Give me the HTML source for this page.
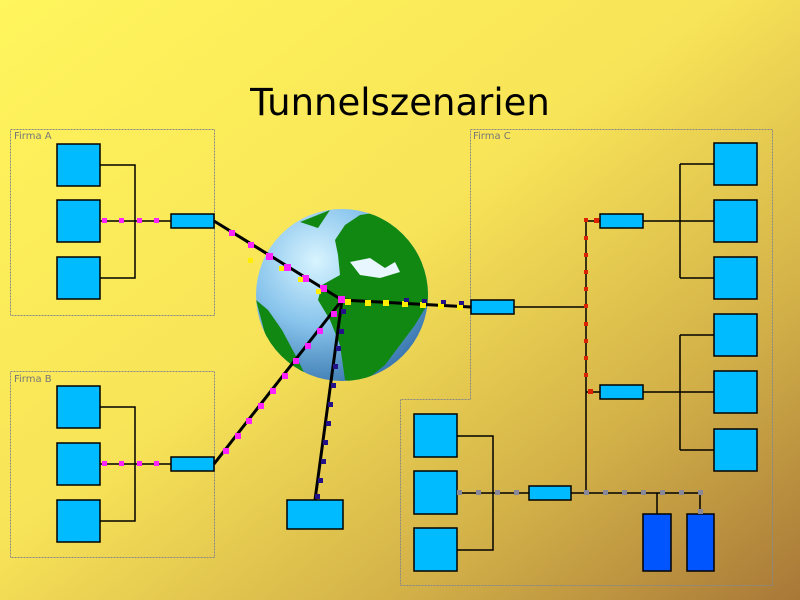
<!DOCTYPE html>
<html><head><style>
body{margin:0;width:800px;height:600px;overflow:hidden}
svg{display:block}
</style></head><body>
<svg width="800" height="600" viewBox="0 0 800 600" xmlns="http://www.w3.org/2000/svg">
<defs>
<linearGradient id="bg" x1="0" y1="0" x2="1" y2="1">
<stop offset="0" stop-color="#fff55c"/><stop offset="0.45" stop-color="#f8e458"/><stop offset="0.75" stop-color="#d2b048"/><stop offset="1" stop-color="#a87838"/>
</linearGradient>
<radialGradient id="gl" cx="0.35" cy="0.3" r="0.75">
<stop offset="0" stop-color="#d8f4ff"/><stop offset="0.5" stop-color="#88c4ec"/><stop offset="1" stop-color="#3a78b0"/>
</radialGradient>
<clipPath id="cp"><circle cx="342" cy="295" r="86"/></clipPath>
</defs>
<rect width="800" height="600" fill="url(#bg)"/>
<text x="400" y="115" text-anchor="middle" font-family="DejaVu Sans, sans-serif" font-size="37" fill="#000">Tunnelszenarien</text>
<g fill="none" stroke="#888" stroke-dasharray="2,1">
<rect x="10.5" y="129.5" width="204" height="186"/>
<rect x="10.5" y="371.5" width="204" height="186"/>
<polygon points="470.5,129.5 772.5,129.5 772.5,585.5 400.5,585.5 400.5,399.5 470.5,399.5"/>
</g>
<g font-family="DejaVu Sans, sans-serif" font-size="10" fill="#777">
<text x="14" y="139">Firma A</text><text x="14" y="382">Firma B</text><text x="473" y="139">Firma C</text>
</g>
<g stroke="#000" stroke-width="1.5" fill="none">
<path d="M100 165H135V278H100M100 221H171"/>
<path d="M100 407H135V521H100M100 464H171"/>
<path d="M514 307H586M586 220V493M586 221H600M586 392H600M643 221H714M680 164V278M680 164H714M680 278H714M643 392H714M680 335V450M680 335H714M680 450H714"/>
<path d="M457 436H493V550H457M457 493H529M571 493H700M657 493V514M700 493V514"/>
</g>
<g fill="#00bbff" stroke="#000" stroke-width="1.5">
<rect x="57" y="144" width="43" height="42"/><rect x="57" y="200" width="43" height="42"/><rect x="57" y="257" width="43" height="42"/>
<rect x="57" y="386" width="43" height="42"/><rect x="57" y="443" width="43" height="42"/><rect x="57" y="500" width="43" height="42"/>
<rect x="171" y="214" width="43" height="14"/><rect x="171" y="457" width="43" height="14"/>
<rect x="287" y="500" width="56" height="29"/>
<rect x="471" y="300" width="43" height="14"/><rect x="600" y="214" width="43" height="14"/><rect x="600" y="385" width="43" height="14"/><rect x="529" y="486" width="42" height="14"/>
<rect x="714" y="143" width="43" height="42"/><rect x="714" y="200" width="43" height="42"/><rect x="714" y="257" width="43" height="42"/>
<rect x="714" y="314" width="43" height="42"/><rect x="714" y="371" width="43" height="42"/><rect x="714" y="429" width="43" height="42"/>
<rect x="414" y="414" width="43" height="43"/><rect x="414" y="471" width="43" height="43"/><rect x="414" y="528" width="43" height="43"/>
</g>
<g fill="#0055ff" stroke="#000" stroke-width="1.5">
<rect x="643" y="514" width="28" height="57"/><rect x="687" y="514" width="27" height="57"/>
</g>
<circle cx="342" cy="295" r="86" fill="url(#gl)"/>
<g clip-path="url(#cp)" fill="#118811">
<path d="M335 240 L345 225 L360 215 L380 212 L400 215 L420 225 L432 260 L430 300 L415 325 L400 345 L385 365 L360 385 L345 380 L340 345 L330 320 L318 300 L322 285 L340 275 L338 255Z"/>
<path d="M256 300 L268 310 L282 330 L298 360 L310 385 L290 372 L268 345Z"/>
<path d="M300 222 L330 210 L318 228Z"/>
</g>
<g fill="#e8f6ff"><path d="M350 262 L370 258 L385 268 L395 262 L400 272 L380 278 L360 275Z"/></g>
<g stroke="#000" stroke-width="3">
<line x1="214" y1="221" x2="342" y2="300"/><line x1="214" y1="464" x2="342" y2="300"/>
<line x1="315" y1="500" x2="342" y2="300"/><line x1="471" y1="307" x2="342" y2="300"/>
</g>
<g fill="#ff22ff">
<rect x="102" y="218" width="5" height="5"/><rect x="119" y="218" width="5" height="5"/><rect x="137" y="218" width="5" height="5"/><rect x="154" y="218" width="5" height="5"/>
<rect x="102" y="461" width="5" height="5"/><rect x="119" y="461" width="5" height="5"/><rect x="137" y="461" width="5" height="5"/><rect x="154" y="461" width="5" height="5"/>
<rect x="229" y="230" width="6" height="6"/><rect x="248" y="242" width="6" height="6"/><rect x="266" y="253" width="7" height="7"/><rect x="284" y="264" width="7" height="7"/><rect x="302" y="275" width="7" height="7"/><rect x="320" y="285" width="7" height="7"/><rect x="338" y="296" width="7" height="7"/>
<rect x="331" y="311" width="6" height="6"/><rect x="317" y="328" width="6" height="6"/><rect x="305" y="343" width="6" height="6"/><rect x="293" y="358" width="6" height="6"/><rect x="282" y="373" width="6" height="6"/><rect x="270" y="388" width="6" height="6"/><rect x="258" y="403" width="6" height="6"/><rect x="246" y="418" width="6" height="6"/><rect x="235" y="433" width="6" height="6"/><rect x="223" y="448" width="6" height="6"/>
</g>
<g fill="#ffee00">
<rect x="248" y="258" width="5" height="5"/><rect x="279" y="266" width="5" height="5"/><rect x="298" y="277" width="5" height="5"/><rect x="316" y="289" width="5" height="5"/>
<rect x="345" y="299" width="6" height="6"/><rect x="365" y="300" width="6" height="6"/><rect x="383" y="300" width="6" height="6"/><rect x="402" y="301" width="6" height="6"/><rect x="420" y="302" width="6" height="6"/><rect x="438" y="303" width="6" height="6"/><rect x="457" y="304" width="6" height="6"/>
</g>
<g fill="#221188">
<rect x="341" y="309" width="5" height="5"/><rect x="339" y="329" width="5" height="5"/><rect x="336" y="346" width="5" height="5"/><rect x="333" y="364" width="5" height="5"/><rect x="331" y="383" width="5" height="5"/><rect x="328" y="402" width="5" height="5"/><rect x="326" y="421" width="5" height="5"/><rect x="323" y="440" width="5" height="5"/><rect x="321" y="459" width="5" height="5"/><rect x="318" y="478" width="5" height="5"/><rect x="315" y="494" width="5" height="5"/>
<rect x="404" y="298" width="5" height="4"/><rect x="422" y="299" width="5" height="4"/><rect x="441" y="300" width="5" height="4"/><rect x="459" y="301" width="5" height="4"/>
</g>
<g fill="#dd2200">
<rect x="584" y="218" width="4" height="4"/><rect x="584" y="236" width="4" height="4"/><rect x="584" y="253" width="4" height="4"/><rect x="584" y="270" width="4" height="4"/><rect x="584" y="287" width="4" height="4"/><rect x="584" y="304" width="4" height="4"/><rect x="584" y="322" width="4" height="4"/><rect x="584" y="339" width="4" height="4"/><rect x="584" y="356" width="4" height="4"/><rect x="584" y="373" width="4" height="4"/><rect x="588" y="389" width="5" height="5"/><rect x="594" y="218" width="5" height="5"/>
</g>
<g fill="#888899">
<rect x="457" y="490" width="5" height="5"/><rect x="476" y="490" width="5" height="5"/><rect x="495" y="490" width="5" height="5"/><rect x="514" y="490" width="5" height="5"/>
<rect x="584" y="490" width="5" height="5"/><rect x="603" y="490" width="5" height="5"/><rect x="622" y="490" width="5" height="5"/><rect x="641" y="490" width="5" height="5"/><rect x="660" y="490" width="5" height="5"/><rect x="679" y="490" width="5" height="5"/><rect x="698" y="490" width="5" height="5"/><rect x="698" y="509" width="5" height="5"/>
</g>
</svg>
</body></html>
